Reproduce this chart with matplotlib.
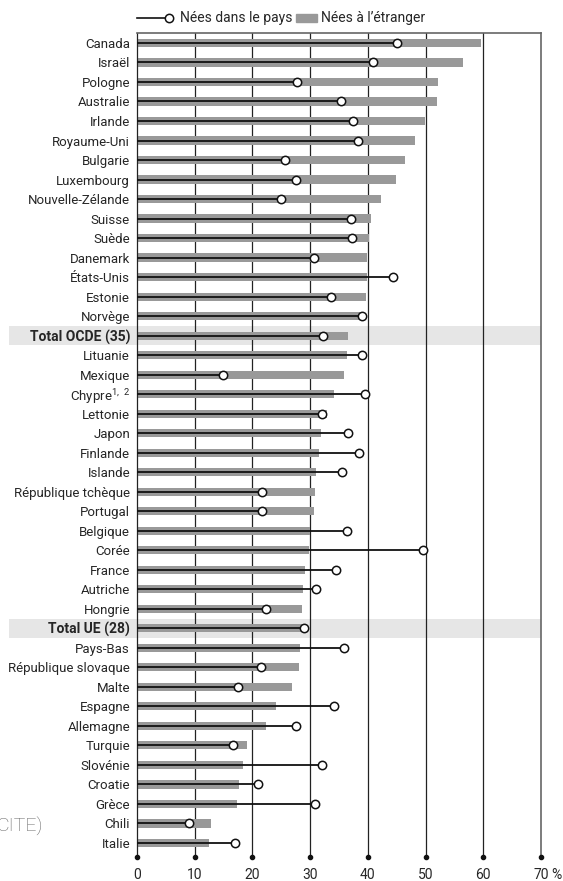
import numpy as np
import matplotlib
matplotlib.use('Agg')
import matplotlib.pyplot as plt
from matplotlib.lines import Line2D
from matplotlib.patches import Rectangle

plt.rcParams['font.family'] = ['Roboto', 'DejaVu Sans']
plt.rcParams['mathtext.fontset'] = 'custom'
plt.rcParams['mathtext.rm'] = 'Roboto'

#Countries, top to bottom
countries = ['Canada', 'Israël', 'Pologne', 'Australie', 'Irlande', 'Royaume-Uni',
             'Bulgarie', 'Luxembourg', 'Nouvelle-Zélande', 'Suisse', 'Suède',
             'Danemark', 'États-Unis', 'Estonie', 'Norvège', 'Total OCDE (35)',
             'Lituanie', 'Mexique', 'Chypre$^{1,\\ 2}$', 'Lettonie', 'Japon',
             'Finlande', 'Islande', 'République tchèque', 'Portugal', 'Belgique',
             'Corée', 'France', 'Autriche', 'Hongrie', 'Total UE (28)', 'Pays-Bas',
             'République slovaque', 'Malte', 'Espagne', 'Allemagne', 'Turquie',
             'Slovénie', 'Croatie', 'Grèce', 'Chili', 'Italie']

#Foreign-born (bars)
foreign_born = [59.6, 56.5, 52.2, 52.0, 49.9, 48.1, 46.5, 44.8, 42.2, 40.6, 40.2,
                39.8, 39.8, 39.6, 38.8, 36.5, 36.3, 35.8, 34.1, 32.9, 31.9,
                31.5, 31.0, 30.8, 30.6, 29.9, 29.8, 29.1, 28.8, 28.6, 29.2, 28.3,
                28.1, 26.9, 24.1, 22.4, 19.1, 18.3, 17.6, 17.4, 12.9, 12.4]

#Native-born (dots)
native_born = [45.1, 40.9, 27.8, 35.3, 37.4, 38.3, 25.6, 27.5, 24.9, 37.0, 37.2,
               30.7, 44.3, 33.7, 38.9, 32.2, 38.9, 14.9, 39.5, 32.0, 36.5,
               38.4, 35.6, 21.6, 21.6, 36.3, 49.6, 34.4, 31.0, 22.3, 29.0, 35.8,
               21.4, 17.5, 34.1, 27.5, 16.7, 32.1, 21.0, 30.8, 9.0, 17.0]

highlight = ['Total OCDE (35)', 'Total UE (28)']
xticks = [0, 10, 20, 30, 40, 50, 60, 70]
xticklabels = ['0', '10', '20', '30', '40', '50', '60', '70']

W, H = 563, 881
fig = plt.figure(figsize=(W / 100, H / 100), dpi=100)
left, right, top, bottom = 137, 541, 33, 857
ax = fig.add_axes([left / W, 1 - bottom / H, (right - left) / W, (bottom - top) / H])

n = len(countries)
y = np.arange(n)
txt = '#262626'

#Grey bands behind the totals
for i, c in enumerate(countries):
    if c in highlight:
        ax.axhspan(i - 0.5, i + 0.5, xmin=(9 - left) / (right - left), xmax=1,
                   color='#e6e6e6', zorder=0, clip_on=False, lw=0)

for g in xticks[1:-1]:
    ax.axvline(g, color='#222222', lw=0.9, zorder=1)

ax.barh(y, foreign_born, height=0.42, color='#999999', zorder=2)
ax.hlines(y, 0, native_born, color='#111111', lw=1.3, zorder=3)
ax.plot(native_born, y, 'o', ms=6, mfc='white', mec='#111111', mew=1.1, zorder=4)

ax.set_xlim(0, 70)
ax.set_ylim(n - 1 + 0.72, -0.51)
ax.set_yticks(y)
ax.set_yticklabels(countries, fontsize=9.5, color=txt)
for lbl in ax.get_yticklabels():
    if lbl.get_text() in highlight:
        lbl.set_fontweight('bold')
        lbl.set_fontsize(10)
ax.set_xticks(xticks)
ax.set_xticklabels(xticklabels, fontsize=10, color=txt)
ax.tick_params(axis='both', length=0)
ax.tick_params(axis='y', pad=5)
ax.tick_params(axis='x', pad=8)

ax.spines['bottom'].set_visible(False)
ax.spines['left'].set_color('#222222')
ax.spines['left'].set_linewidth(0.9)
for s in ['top', 'right']:
    ax.spines[s].set_color('#666666')
    ax.spines[s].set_linewidth(1.2)

#Dots at the foot of the grid lines
ax.plot(xticks, [ax.get_ylim()[0]] * len(xticks), 'o', ms=3, color='#111111',
        clip_on=False, zorder=5)

#Percent sign after the last tick label
lbl70 = ax.get_xticklabels()[-1]
fig.canvas.draw()
bb = lbl70.get_window_extent()
fig.text((bb.x1 + 2) / W, (bb.y0 + bb.y1) / 2 / H, '%', fontsize=10, color=txt,
         va='center', ha='left')

#Legend drawn by hand so the marker sits at the end of the line
ly = 1 - 18 / H
fig.add_artist(Line2D([137 / W, 166 / W], [ly, ly], color='#111111', lw=1.2))
fig.add_artist(Line2D([169 / W], [ly], marker='o', ms=6, mfc='white', mec='#111111',
                      mew=1.1, lw=0))
fig.text(180 / W, ly, 'Nées dans le pays', fontsize=10, color=txt, va='center')
fig.add_artist(Rectangle((296 / W, ly - 4 / H), 21 / W, 8 / H, color='#999999'))
fig.text(321 / W, ly, 'Nées à l’étranger', fontsize=10, color=txt, va='center')

fig.text(-3 / W, 1 - 827 / H, 'CITE)', fontsize=14, color='#666666', va='center',
         ha='left', fontweight='light')

fig.savefig('out.png', dpi=100)
